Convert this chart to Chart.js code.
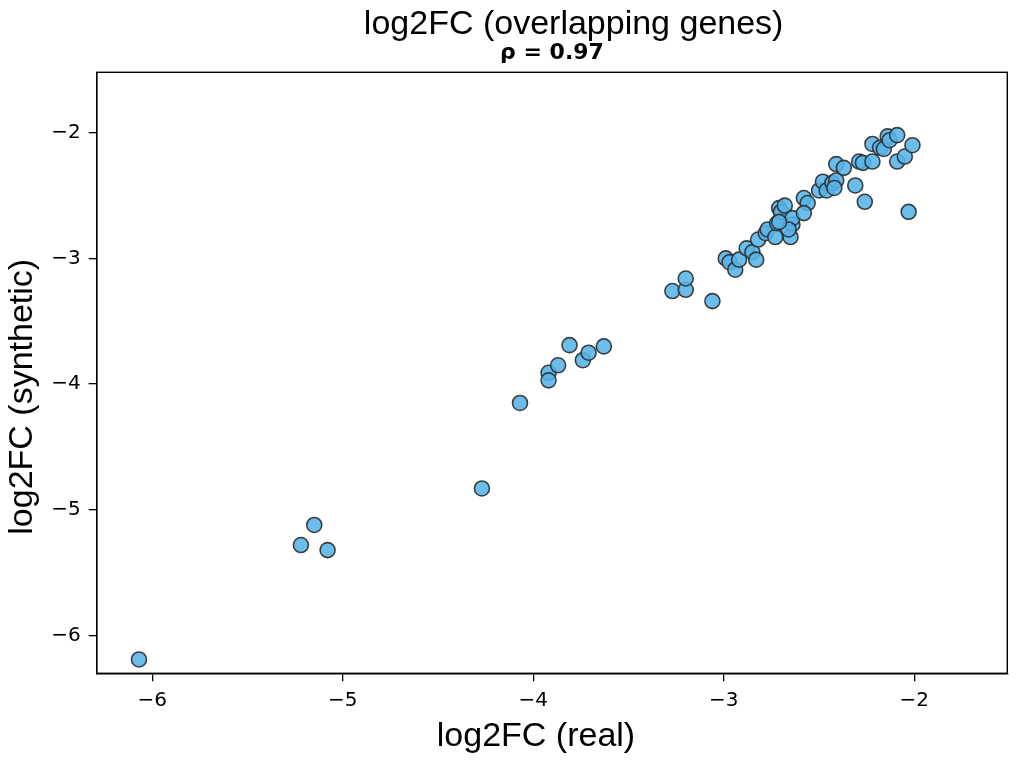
<!DOCTYPE html>
<html>
<head>
<meta charset="utf-8">
<script src="https://cdn.jsdelivr.net/npm/chart.js@4"></script>
<style>
  html, body { margin: 0; padding: 0; background: #ffffff; }
  #wrap { width: 1024px; height: 760px; }
</style>
</head>
<body>
<div id="wrap"><canvas id="c" width="1024" height="760"></canvas></div>
<script>
// ---- data ----
const realLog2FC = [
  -6.07, -5.22, -5.15, -5.08, -4.27, -4.07, -3.92, -3.92, -3.87, -3.81,
  -3.74, -3.71, -3.63, -3.27, -3.20, -3.20, -3.06, -2.99, -2.97, -2.94,
  -2.92, -2.88, -2.85, -2.83, -2.82, -2.78, -2.77, -2.73, -2.72, -2.71,
  -2.70, -2.68, -2.64, -2.64, -2.65, -2.58, -2.56, -2.58, -2.50, -2.48,
  -2.46, -2.43, -2.41, -2.41, -2.37, -2.31, -2.26, -2.29, -2.27, -2.22,
  -2.22, -2.18, -2.16, -2.14, -2.13, -2.09, -2.09, -2.05, -2.01, -2.03,
  -2.66, -2.71, -2.42
];
const syntheticLog2FC = [
  -6.19, -5.28, -5.12, -5.32, -4.83, -4.15, -3.91, -3.97, -3.85, -3.69,
  -3.81, -3.75, -3.70, -3.26, -3.25, -3.16, -3.34, -3.00, -3.03, -3.09,
  -3.01, -2.92, -2.95, -3.01, -2.85, -2.80, -2.77, -2.83, -2.72, -2.60,
  -2.63, -2.58, -2.73, -2.68, -2.83, -2.52, -2.56, -2.64, -2.46, -2.39,
  -2.46, -2.40, -2.38, -2.25, -2.28, -2.42, -2.55, -2.23, -2.24, -2.23,
  -2.09, -2.12, -2.13, -2.03, -2.06, -2.02, -2.23, -2.19, -2.10, -2.63,
  -2.77, -2.71, -2.44
];
const xTickValues = [-6, -5, -4, -3, -2];
const yTickValues = [-6, -5, -4, -3, -2];
const titleText = 'log2FC (overlapping genes)';
const subtitleText = '\u03C1 = 0.97';
const xAxisLabel = 'log2FC (real)';
const yAxisLabel = 'log2FC (synthetic)';

const points = realLog2FC.map((x, i) => ({ x: x, y: syntheticLog2FC[i] }));
const fmt = v => (v < 0 ? '\u2212' : '') + Math.abs(v);

const framePlugin = {
  id: 'frame',
  afterDatasetsDraw(chart) {
    const a = chart.chartArea, ctx = chart.ctx;
    ctx.save();
    ctx.strokeStyle = '#000';
    ctx.lineWidth = 1.4;
    ctx.strokeRect(a.left, a.top, a.right - a.left, a.bottom - a.top);
    ctx.restore();
  }
};
// nudge text blocks to where the reference puts them
const textShift = {
  id: 'textShift',
  afterLayout(chart) {
    const t = chart.titleBlock;
    if (t) { t.left += 70; t.right += 70; }
  },
  beforeDraw(chart) {
    const shifts = { x: [-16, 0], y: [0, 24] };
    Object.keys(shifts).forEach(id => {
      const s = chart.scales[id];
      if (s && !s._titleShifted) {
        const orig = s.drawTitle.bind(s);
        const [dx, dy] = shifts[id];
        s.drawTitle = function () {
          const ctx = this.ctx;
          ctx.save();
          ctx.translate(dx, dy);
          orig();
          ctx.restore();
        };
        s._titleShifted = true;
      }
    });
  }
};

Chart.defaults.font.family = '"DejaVu Sans", sans-serif';
Chart.defaults.color = '#000';

new Chart(document.getElementById('c'), {
  type: 'scatter',
  data: {
    datasets: [{
      data: points,
      pointRadius: 7.5,
      pointHoverRadius: 7.5,
      pointBorderWidth: 1.6,
      backgroundColor: 'rgba(86,180,233,0.88)',
      borderColor: 'rgba(45,45,45,0.9)'
    }]
  },
  options: {
    responsive: false,
    animation: false,
    devicePixelRatio: 1,
    layout: { padding: { top: 0, right: 16.7, bottom: 0, left: 0 } },
    plugins: {
      legend: { display: false },
      tooltip: { enabled: false },
      title: {
        display: true,
        text: titleText,
        color: '#000',
        font: { family: '"Liberation Sans", Arial, sans-serif', size: 34, weight: 'normal', lineHeight: 1.0 },
        padding: { top: 8, bottom: 0 }
      },
      subtitle: {
        display: true,
        text: subtitleText,
        color: '#000',
        fullSize: false,
        font: { family: '"DejaVu Sans", sans-serif', size: 22, weight: 'bold', lineHeight: 1.0 },
        padding: { top: 0, bottom: 8.3 }
      }
    },
    scales: {
      x: {
        type: 'linear',
        min: -6.292,
        max: -1.512,
        afterBuildTicks: s => { s.ticks = xTickValues.map(v => ({ value: v })); },
        afterFit: s => { s.height = 86.7; },
        grid: { display: true, drawOnChartArea: false, drawTicks: true, tickLength: 8, color: '#000', lineWidth: 1.3 },
        border: { display: true, color: '#000', width: 1.4 },
        ticks: { callback: v => fmt(v), font: { size: 20 }, color: '#000', padding: 7, maxRotation: 0 },
        title: {
          display: true,
          text: xAxisLabel,
          color: '#000',
          font: { family: '"Liberation Sans", Arial, sans-serif', size: 34, lineHeight: 1.2 },
          padding: { top: 0, bottom: 2.5 }
        }
      },
      y: {
        type: 'linear',
        min: -6.30,
        max: -1.52,
        afterBuildTicks: s => { s.ticks = yTickValues.map(v => ({ value: v })); },
        afterFit: s => { s.width = 96.7; },
        grid: { display: true, drawOnChartArea: false, drawTicks: true, tickLength: 8, color: '#000', lineWidth: 1.3 },
        border: { display: true, color: '#000', width: 1.4 },
        ticks: { callback: v => fmt(v), font: { size: 20 }, color: '#000', padding: 8 },
        title: {
          display: true,
          text: yAxisLabel,
          color: '#000',
          font: { family: '"Liberation Sans", Arial, sans-serif', size: 34, lineHeight: 1.2 },
          padding: { top: 2, bottom: 0 }
        }
      }
    }
  },
  plugins: [framePlugin, textShift]
});
</script>
</body>
</html>
